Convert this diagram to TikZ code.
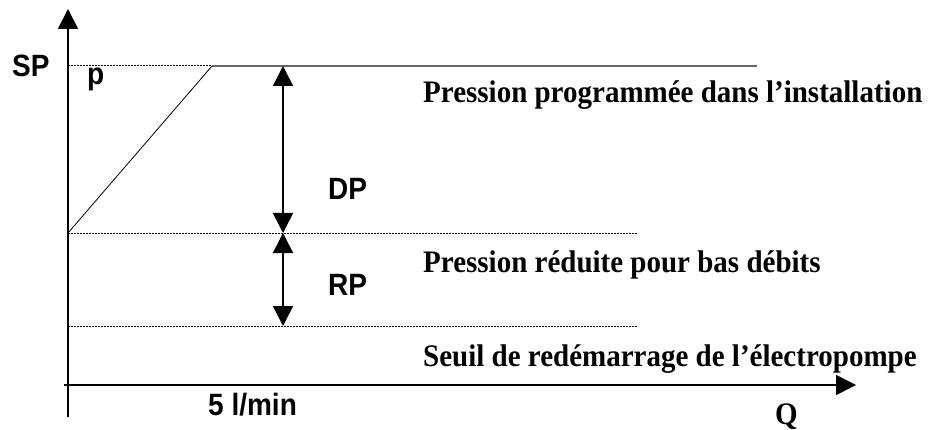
\documentclass[tikz,border=0pt]{standalone}
\usepackage{fontspec}
\setmainfont{Liberation Serif}
\setsansfont{Liberation Sans}
\usetikzlibrary{arrows.meta}
\begin{document}
\begin{tikzpicture}[x=1pt,y=-1pt,
  axis/.style={line width=1.6pt,-{Triangle[length=20pt,width=20pt]}},
  dim/.style={line width=1.6pt,{Triangle[length=20pt,width=20pt]}-{Triangle[length=20pt,width=20pt]}},
  dots/.style={line width=1pt,dash pattern=on 1.5pt off 1.5pt},
  sanslab/.style={inner sep=0pt,anchor=base west,font=\sffamily\bfseries\fontsize{28}{28}\selectfont},
  seriflab/.style={inner sep=0pt,anchor=base west,font=\rmfamily\bfseries\fontsize{29}{29}\selectfont}]
\useasboundingbox (0,0) rectangle (933,430);
% coordinates
\coordinate (yb) at (68,417);
\coordinate (yt) at (68,9);
\coordinate (xl) at (64,385);
\coordinate (xr) at (856,385);
\coordinate (t0) at (68,66);
\coordinate (t1) at (212,66);
\coordinate (t2) at (757,66);
\coordinate (m0) at (68,233);
\coordinate (m1) at (638,233);
\coordinate (b0) at (68,326);
\coordinate (b1) at (638,326);
\coordinate (at) at (283,66);
\coordinate (am) at (283,233);
\coordinate (ab) at (283,326);
% axes
\draw[axis] (yb) -- (yt);
\draw[axis] (xl) -- (xr);
% levels
\draw[dots] (t0) -- (t1);
\draw[line width=1.3pt,black!60] (t1) -- (t2);
\draw[line width=0.8pt] (m0) -- (t1);
\draw[dots] (m0) -- (m1);
\draw[dots] (b0) -- (b1);
% dimension arrows
\draw[dim] (at) -- (am);
\draw[dim] (am) -- (ab);
% labels
\node[sanslab] (sp) at (12,77) {\scalebox{1}[1.1]{SP}};
\node[sanslab] (p) at (87,85) {\scalebox{1}[1.1]{p}};
\node[sanslab] (dp) at (328,200) {\scalebox{1}[1.1]{DP}};
\node[sanslab] (rp) at (328,295) {\scalebox{1}[1.1]{RP}};
\node[sanslab] (q5) at (208,415) {\scalebox{1}[1.1]{5 l/min}};
\node[seriflab] (l1) at (423,103) {\scalebox{1}[1.08]{Pression programmée dans l’installation}};
\node[seriflab] (l2) at (423,272) {\scalebox{1}[1.08]{Pression réduite pour bas débits}};
\node[seriflab] (l3) at (423,366) {\scalebox{1}[1.08]{Seuil de redémarrage de l’électropompe}};
\node[seriflab] (q) at (775,424) {\scalebox{1}[1.08]{Q}};
\end{tikzpicture}
\end{document}
